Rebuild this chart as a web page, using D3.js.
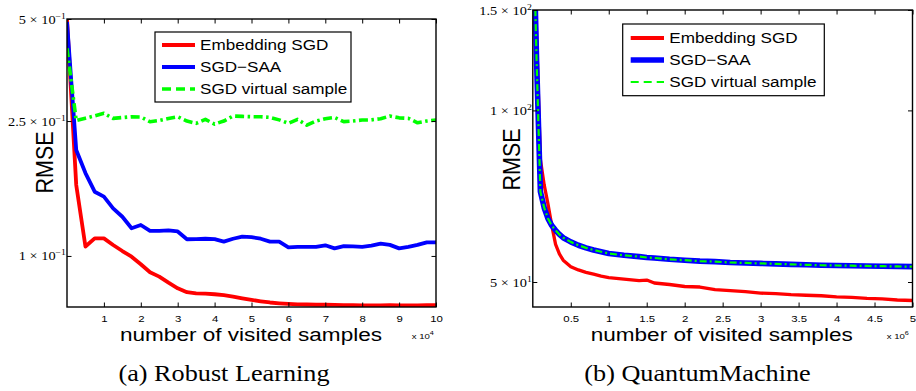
<!DOCTYPE html>
<html>
<head>
<meta charset="utf-8">
<script src="https://cdn.jsdelivr.net/npm/d3@7"></script>
<style>
  body { margin: 0; background: #fff; }
  svg { display: block; }
</style>
</head>
<body>
<div id="fig"></div>
<script>
// ---- data: (a) Robust Learning, x in units of 1e4 samples
const robustX = [0, 0.25, 0.5, 0.75, 1, 1.25, 1.5, 1.75, 2, 2.25, 2.5, 2.75, 3, 3.25, 3.5, 3.75, 4, 4.25, 4.5, 4.75,
    5, 5.25, 5.5, 5.75, 6, 6.25, 6.5, 6.75, 7, 7.25, 7.5, 7.75, 8, 8.25, 8.5, 8.75, 9, 9.25, 9.5, 9.75, 10];
const robustEmbedding = [0.5, 0.162, 0.1066, 0.1127, 0.1127, 0.1077, 0.1034, 0.0995, 0.0945, 0.0895, 0.0869, 0.0834,
    0.0803, 0.0782, 0.0776, 0.0774, 0.0771, 0.0766, 0.0759, 0.0750, 0.0742, 0.0735, 0.0729, 0.0725, 0.0722, 0.0720,
    0.0719, 0.0718, 0.0718, 0.0717, 0.0716, 0.0716, 0.0715, 0.0715, 0.0715, 0.0716, 0.0715, 0.0715, 0.0715, 0.0716, 0.0716];
const robustSaa = [0.490, 0.2054, 0.1756, 0.1547, 0.1496, 0.1382, 0.1305, 0.1207, 0.1234, 0.1185, 0.1185, 0.1190,
    0.1181, 0.1120, 0.1121, 0.1124, 0.1121, 0.1102, 0.1124, 0.1140, 0.1136, 0.1124, 0.1102, 0.1102, 0.1060, 0.1064,
    0.1064, 0.1064, 0.1075, 0.1053, 0.1069, 0.1067, 0.1064, 0.1072, 0.1087, 0.1078, 0.1053, 0.1064, 0.1078, 0.1097, 0.1097];
const robustVirtual = [0.41, 0.251, 0.255, 0.259, 0.2634, 0.2546, 0.2560, 0.2574, 0.2570, 0.2488, 0.2510, 0.2545,
    0.2574, 0.2500, 0.2461, 0.2528, 0.2449, 0.2500, 0.2586, 0.2580, 0.2575, 0.2574, 0.2563, 0.2520, 0.2461, 0.2528,
    0.2432, 0.2500, 0.2540, 0.2563, 0.2490, 0.2500, 0.2517, 0.2520, 0.2540, 0.2586, 0.2555, 0.2546, 0.2471, 0.2500, 0.2517];
const robustXTicks = [1, 2, 3, 4, 5, 6, 7, 8, 9, 10];
const robustYTicks = [0.1, 0.25, 0.5];
const robustYTickLabels = [["1", "\u22121"], ["2.5", "\u22121"], ["5", "\u22121"]];

// ---- data: (b) QuantumMachine, x in units of 1e6 samples
const quantumX = [0, 0.05, 0.1, 0.15, 0.2, 0.25, 0.3, 0.35, 0.4, 0.5, 0.6, 0.7, 0.8, 0.9, 1.0, 1.2, 1.4, 1.5, 1.6,
    1.8, 2.0, 2.2, 2.4, 2.6, 2.8, 3.0, 3.2, 3.4, 3.6, 3.8, 4.0, 4.2, 4.4, 4.6, 4.8, 5.0];
const quantumEmbedding = [260, 135, 82, 74, 68.5, 62.8, 58.2, 56.0, 54.6, 53.2, 52.5, 52.0, 51.6, 51.2, 50.9, 50.6,
    50.3, 50.4, 49.8, 49.5, 49.1, 49.0, 48.5, 48.3, 48.1, 47.8, 47.7, 47.5, 47.4, 47.3, 47.1, 47.0, 46.8, 46.7, 46.5, 46.4];
const quantumSaa = [230, 122, 72, 67.5, 64.6, 62.8, 61.6, 60.6, 59.8, 58.8, 58.0, 57.4, 56.9, 56.5, 56.1, 55.7,
    55.4, 55.2, 55.1, 54.8, 54.6, 54.4, 54.3, 54.1, 54.0, 53.9, 53.8, 53.7, 53.6, 53.5, 53.45, 53.4, 53.35, 53.3, 53.25, 53.2];
const quantumVirtual = [230, 122, 72, 67.5, 64.6, 62.8, 61.6, 60.6, 59.8, 58.8, 58.0, 57.4, 56.9, 56.5, 56.1, 55.7,
    55.4, 55.2, 55.1, 54.8, 54.6, 54.4, 54.3, 54.1, 54.0, 53.9, 53.8, 53.7, 53.6, 53.5, 53.45, 53.4, 53.35, 53.3, 53.25, 53.2];
const quantumXTicks = [0.5, 1, 1.5, 2, 2.5, 3, 3.5, 4, 4.5, 5];
const quantumYTicks = [50, 100, 150];
const quantumYTickLabels = [["5", "1"], ["1", "2"], ["1.5", "2"]];

const seriesNames = ["Embedding SGD", "SGD\u2212SAA", "SGD virtual sample"];

const SANS = '"Liberation Sans", Arial, Helvetica, sans-serif';
const SERIF = '"Liberation Serif", "Times New Roman", serif';

// text with a horizontal stretch, the scanned figure is a bit wide
function stretchedText(g, x, y, str, size, sx, family, anchor) {
    return g.append('text')
        .attr('transform', `translate(${x},${y}) scale(${sx},1)`)
        .attr('text-anchor', anchor || 'start')
        .attr('font-family', family)
        .attr('font-size', size)
        .attr('fill', '#000')
        .text(str);
}

class RmsePanel {
    constructor(svg, config) {
        this.svg = svg;
        this.config = config;
        this.xScale = null;
        this.yScale = null;
        this.g = svg.append('g');
        this.createScales();
        this.createClip();
    }

    createScales() {
        const c = this.config;
        this.xScale = d3.scaleLinear().domain(c.xDomain).range([c.left, c.right]);
        this.yScale = d3.scaleLog().domain(c.yDomain).range([c.bottom, c.top]);
    }

    createClip() {
        const c = this.config;
        this.svg.append('clipPath').attr('id', c.id + '-clip')
            .append('rect')
            .attr('x', c.left).attr('y', c.top)
            .attr('width', c.right - c.left).attr('height', c.bottom - c.top);
        this.plot = this.g.append('g').attr('clip-path', `url(#${c.id}-clip)`);
    }

    renderSeries(xs, values, style) {
        const line = d3.line()
            .x((d, i) => this.xScale(xs[i]))
            .y(d => this.yScale(d));
        this.plot.append('path')
            .datum(values)
            .attr('d', line)
            .attr('fill', 'none')
            .attr('stroke', style.color)
            .attr('stroke-width', style.width)
            .attr('stroke-dasharray', style.dash || null)
            .attr('stroke-linejoin', 'round');
    }

    createAxis() {
        const c = this.config;
        const tick = 4.5;

        const xb = this.g.append('g').attr('transform', `translate(0,${c.bottom})`)
            .call(d3.axisBottom(this.xScale).tickValues(c.xTicks).tickSize(-tick).tickFormat(d => String(d)));
        xb.selectAll('text')
            .attr('y', 15).attr('dy', null)
            .attr('font-family', SANS).attr('font-size', 9.5)
            .attr('transform', 'scale(1.2,1)');

        this.g.append('g').attr('transform', `translate(0,${c.top})`)
            .call(d3.axisTop(this.xScale).tickValues(c.xTicks).tickSize(-tick).tickFormat(''));

        const yl = this.g.append('g').attr('transform', `translate(${c.left},0)`)
            .call(d3.axisLeft(this.yScale).tickValues(c.yTicks).tickSize(-tick).tickFormat(''));
        yl.selectAll('.tick').each(function (d, i) {
            const lab = c.yTickLabels[i];
            const t = d3.select(this).append('text')
                .attr('text-anchor', 'end')
                .attr('transform', 'translate(-1,4) scale(1.15,1)')
                .attr('font-family', SERIF).attr('font-size', 12.5).attr('fill', '#000');
            t.append('tspan').text(lab[0] + ' \u00d7 10');
            t.append('tspan').attr('dy', -5).attr('font-size', 8.5).text(lab[1]);
        });

        this.g.append('g').attr('transform', `translate(${c.right},0)`)
            .call(d3.axisRight(this.yScale).tickValues(c.yTicks).tickSize(-tick).tickFormat(''));

        this.g.selectAll('.domain').remove();
        this.g.selectAll('.tick line').attr('stroke', '#000').attr('stroke-width', 1);

        this.g.append('rect')
            .attr('x', c.left).attr('y', c.top)
            .attr('width', c.right - c.left).attr('height', c.bottom - c.top)
            .attr('fill', 'none').attr('stroke', '#000').attr('stroke-width', 1.4);
    }

    renderLabels() {
        const c = this.config;
        stretchedText(this.g, c.xLabelX, 341, 'number of visited samples', 18.5, 1.22, SANS, 'middle');

        this.g.append('text')
            .attr('transform', `translate(${c.yLabelX},${c.yLabelY}) rotate(-90) scale(1,1.12)`)
            .attr('text-anchor', 'middle')
            .attr('font-family', SANS).attr('font-size', 21.5).attr('fill', '#000')
            .text('RMSE');

        const m = stretchedText(this.g, c.multX, 338.5, 'x 10', 8, 1.2, SANS, 'start');
        m.append('tspan').attr('dy', -4).attr('font-size', 6).text(c.multExp);

        stretchedText(this.g, c.captionX, 381, c.caption, 23, 1.14, SERIF, 'middle');
    }

    renderLegend(styles) {
        const L = this.config.legend;
        const lg = this.g.append('g');
        lg.append('rect')
            .attr('x', L.x0).attr('y', L.y0)
            .attr('width', L.x1 - L.x0).attr('height', L.y1 - L.y0)
            .attr('fill', '#fff').attr('stroke', '#000').attr('stroke-width', 1.2);
        styles.forEach((s, i) => {
            const y = L.rows[i];
            lg.append('line')
                .attr('x1', L.lineX0).attr('x2', L.lineX1).attr('y1', y).attr('y2', y)
                .attr('stroke', s.color).attr('stroke-width', s.legendWidth || s.width)
                .attr('stroke-dasharray', s.legendDash || null);
            stretchedText(lg, L.textX, y + 5.2, seriesNames[i], 15, 1.14, SANS, 'start');
        });
    }
}

const svg = d3.select('#fig').append('svg')
    .attr('width', 916).attr('height', 391);

const robust = new RmsePanel(svg, {
    id: 'robust', left: 67, right: 436, top: 19, bottom: 307,
    xDomain: [0, 10], yDomain: [0.0707, 0.5],
    xTicks: robustXTicks, yTicks: robustYTicks, yTickLabels: robustYTickLabels,
    xLabelX: 251, yLabelX: 53.3, yLabelY: 162.5, multX: 411.7, multExp: '4',
    captionX: 224, caption: '(a) Robust Learning',
    legend: { x0: 155, x1: 351, y0: 32, y1: 102, rows: [45, 67, 89], lineX0: 162, lineX1: 195, textX: 200 }
});
const robustStyles = [
    { color: '#ff0000', width: 3.8 },
    { color: '#0000ff', width: 3.8 },
    { color: '#00ff00', width: 3.6, dash: '9,3.5,2.5,3.5', legendDash: '9,5' }
];
robust.createAxis();
robust.renderSeries(robustX, robustEmbedding, robustStyles[0]);
robust.renderSeries(robustX, robustSaa, robustStyles[1]);
robust.renderSeries(robustX, robustVirtual, robustStyles[2]);
robust.renderLegend(robustStyles);
robust.renderLabels();

const quantum = new RmsePanel(svg, {
    id: 'quantum', left: 532.8, right: 912.5, top: 10, bottom: 307,
    xDomain: [0, 5], yDomain: [45.2, 150],
    xTicks: quantumXTicks, yTicks: quantumYTicks, yTickLabels: quantumYTickLabels,
    xLabelX: 721.7, yLabelX: 520, yLabelY: 159.5, multX: 886.7, multExp: '6',
    captionX: 697.5, caption: '(b) QuantumMachine',
    legend: { x0: 622.7, x1: 824.3, y0: 24, y1: 95.7, rows: [38, 60, 82], lineX0: 630.7, lineX1: 664, textX: 669.3 }
});
const quantumStyles = [
    { color: '#ff0000', width: 3.3, legendWidth: 3.8 },
    { color: '#0000ff', width: 5.6 },
    { color: '#00ff00', width: 2.2, dash: '7,3,2,3', legendDash: '8,5' }
];
quantum.createAxis();
quantum.renderSeries(quantumX, quantumEmbedding, quantumStyles[0]);
quantum.renderSeries(quantumX, quantumSaa, quantumStyles[1]);
quantum.renderSeries(quantumX, quantumVirtual, quantumStyles[2]);
quantum.renderLegend(quantumStyles);
quantum.renderLabels();
</script>
</body>
</html>
